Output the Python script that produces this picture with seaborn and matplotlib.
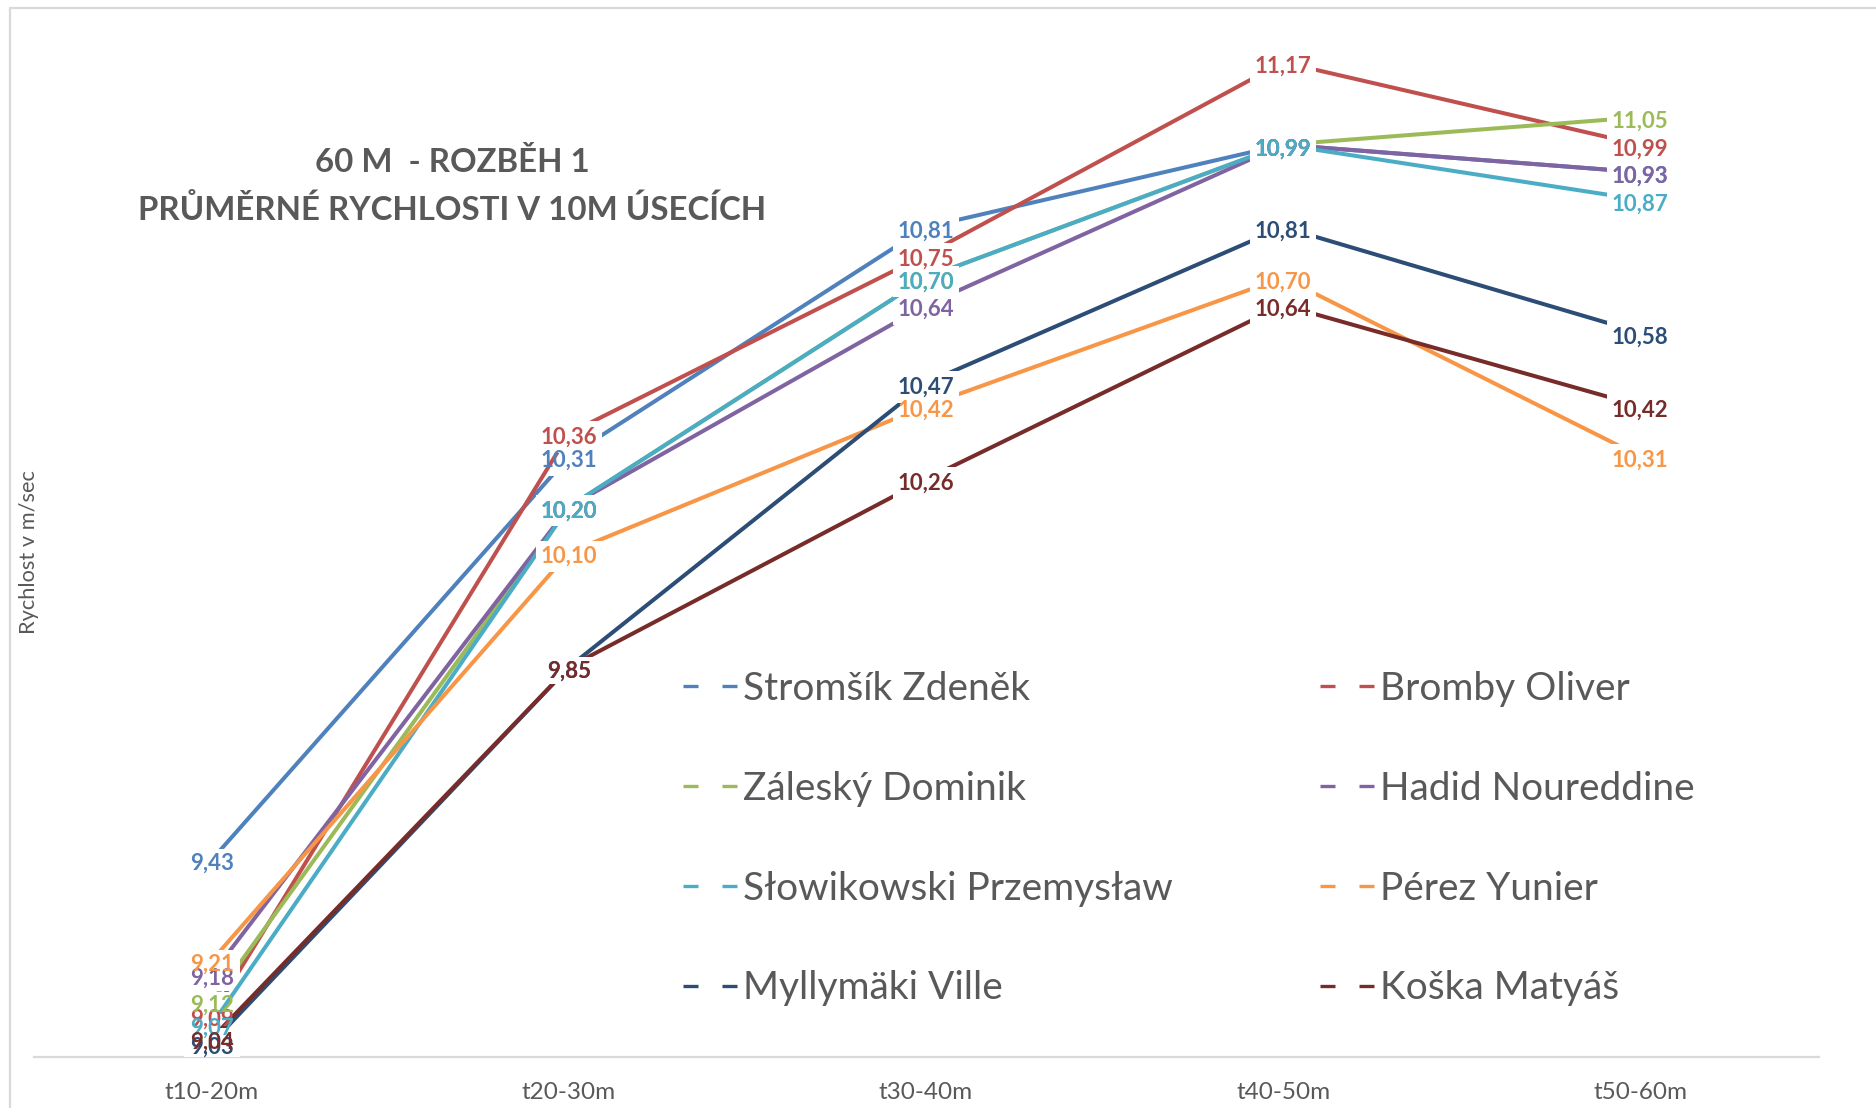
import matplotlib
matplotlib.use("Agg")
import matplotlib.pyplot as plt
from matplotlib.lines import Line2D
from matplotlib.path import Path
import seaborn as sns
import pandas as pd

# ---- data ----
categories = ["t10-20m", "t20-30m", "t30-40m", "t40-50m", "t50-60m"]
runners = ["Stromšík Zdeněk", "Bromby Oliver", "Záleský Dominik", "Hadid Noureddine",
           "Słowikowski Przemysław", "Pérez Yunier", "Myllymäki Ville", "Koška Matyáš"]
stromsik = [9.43, 10.31, 10.81, 10.99, 10.93]
bromby = [9.09, 10.36, 10.75, 11.17, 10.99]
zalesky = [9.12, 10.20, 10.70, 10.99, 11.05]
hadid = [9.18, 10.20, 10.64, 10.99, 10.93]
slowikowski = [9.07, 10.20, 10.70, 10.99, 10.87]
perez = [9.21, 10.10, 10.42, 10.70, 10.31]
myllymaki = [9.03, 9.85, 10.47, 10.81, 10.58]
koska = [9.04, 9.85, 10.26, 10.64, 10.42]
series_values = [stromsik, bromby, zalesky, hadid, slowikowski, perez, myllymaki, koska]
colors = ["#4F81BD", "#C0504D", "#9BBB59", "#8064A2", "#4BACC6", "#F79646", "#2C4D75", "#772C2A"]
title_lines = ["60 M  - ROZBĚH 1", "PRŮMĚRNÉ RYCHLOSTI V 10M ÚSECÍCH"]
y_label = "Rychlost v m/sec"

rows = []
for name, vals in zip(runners, series_values):
    for i, (c, v) in enumerate(zip(categories, vals)):
        rows.append({"runner": name, "idx": i, "segment": c, "speed": v})
df = pd.DataFrame(rows)

sns.set_theme(style="white")
plt.rcParams["font.family"] = ["Lato", "DejaVu Sans"]

W, H = 1876, 1108
fig = plt.figure(figsize=(W / 100, H / 100), dpi=100)
ax_l, ax_r, ax_b, ax_t = 33.5, 1818.6, 1056.5, 48.5
ax = fig.add_axes([ax_l / W, (H - ax_b) / H, (ax_r - ax_l) / W, (ax_b - ax_t) / H])

sns.lineplot(data=df, x="idx", y="speed", hue="runner", hue_order=runners,
             palette=colors, linewidth=2.9, legend=False, sort=False, ax=ax)

for i, line in enumerate(ax.lines):
    line.set_zorder(2 + 2 * i)
    line.set_solid_capstyle("butt")

# white label backgrounds that cut each series' line around its own labels
mask_marker = Path([(-1, -0.6), (1, -0.6), (1, 0.36), (-1, 0.36), (-1, -0.6)],
                   [Path.MOVETO, Path.LINETO, Path.LINETO, Path.LINETO, Path.CLOSEPOLY])
for i, vals in enumerate(series_values):
    texts = [f"{v:.2f}".replace(".", ",") for v in vals]
    sizes = [(47.5 if len(t) >= 5 else 40.0) ** 2 for t in texts]
    ax.scatter(range(len(vals)), vals, s=sizes, marker=mask_marker, c="white",
               linewidths=0, zorder=3 + 2 * i)

# the value labels, drawn on top in series order
for i, (vals, col) in enumerate(zip(series_values, colors)):
    for x, v in enumerate(vals):
        ax.annotate(f"{v:.2f}".replace(".", ","), (x, v), xytext=(0, -3),
                    textcoords="offset points", ha="center", va="center",
                    fontsize=16, fontweight="bold", color=col, zorder=50)

ax.set_xlim(-0.5, 4.5)
ax.set_ylim(9.0, 11.2)
ax.set_xticks(range(len(categories)))
ax.set_xticklabels(categories, fontsize=17.5, color="#595959")
ax.set_yticks([])
ax.tick_params(axis="x", length=0, pad=18.5)
ax.set_xlabel("")
ax.set_ylabel("")
for s in ["top", "right", "left"]:
    ax.spines[s].set_visible(False)
ax.spines["bottom"].set_color("#D9D9D9")
ax.spines["bottom"].set_linewidth(1.6)
ax.patch.set_alpha(0)

fig.text(29 / W, 1 - 552 / H, y_label, rotation=90, ha="center", va="center",
         fontsize=15.7, color="#595959")

fig.text(452 / W, 1 - 162.5 / H, title_lines[0], ha="center", va="center",
         fontsize=23.8, fontweight="bold", color="#595959")
fig.text(452 / W, 1 - 210 / H, title_lines[1], ha="center", va="center",
         fontsize=23.8, fontweight="bold", color="#595959")

# chart frame (top & left)
fig.add_artist(Line2D([10 / W, 10 / W], [0, 1 - 7.5 / H], transform=fig.transFigure,
                      color="#D9D9D9", lw=1.6))
fig.add_artist(Line2D([10 / W, 1], [1 - 7.5 / H, 1 - 7.5 / H], transform=fig.transFigure,
                      color="#D9D9D9", lw=1.6))

def handle(c):
    return Line2D([], [], color=c, lw=2.4, dashes=(4.5, 7.2), solid_capstyle="butt",
                  dash_capstyle="butt")

col1 = [0, 2, 4, 6]
col2 = [1, 3, 5, 7]
leg_kw = dict(loc="upper left", frameon=False, fontsize=28, labelcolor="#595959",
              handlelength=1.41, handletextpad=0.14, labelspacing=1.64, borderpad=0,
              borderaxespad=0)
leg1 = fig.legend([handle(colors[i]) for i in col1], [runners[i] for i in col1],
                  bbox_to_anchor=(683 / W, 1 - 671 / H), **leg_kw)
leg2 = fig.legend([handle(colors[i]) for i in col2], [runners[i] for i in col2],
                  bbox_to_anchor=(1320 / W, 1 - 671 / H), **leg_kw)

fig.savefig("out.png", dpi=100, facecolor="white")
